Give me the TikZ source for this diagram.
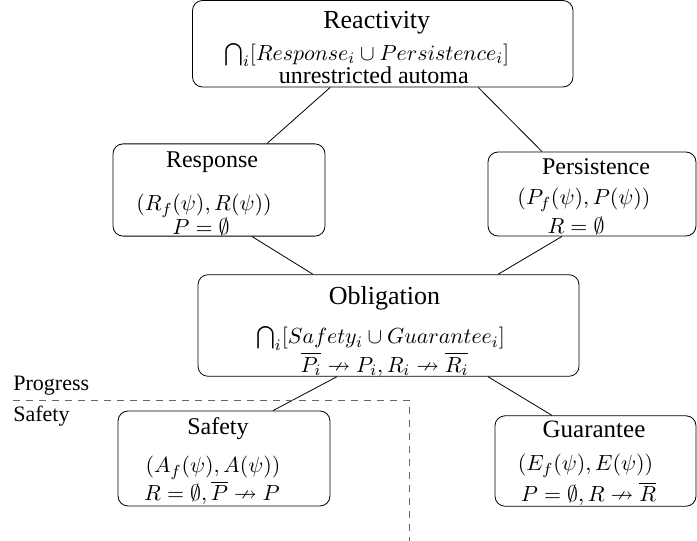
\documentclass[tikz,border=0pt]{standalone}
\usepackage[no-math]{fontspec}
\setmainfont{Liberation Serif}
\usepackage{amssymb}
\usetikzlibrary{calc}

% line of text set a little left of the box centre
\newcommand{\padl}[2]{\makebox[0pt]{\kern-#1\relax#2\kern#1\relax}}
\newcommand{\ttlfont}{\fontsize{12}{14}\selectfont}
\newcommand{\bigttlfont}{\fontsize{13}{15}\selectfont}

\begin{document}
\begin{tikzpicture}[x=0.5pt, y=-0.5pt,
	box/.style={draw, rounded corners=5pt, align=center, inner sep=0pt, font=\fontsize{11.3}{12}\selectfont},
	region/.style={dashed, dash pattern=on 3.5pt off 3pt, gray!80!black}]

\def\width{697}
\def\height{541}

\path [use as bounding box] (0,0) rectangle (\width,\height);

% BOXES
\node [box, minimum width=190.25pt, minimum height=43.25pt] (react) at (382.75,43.75)
	{\padl{3pt}{\bigttlfont\rule{0pt}{12pt}Reactivity}\\[4pt]
	 \padl{8pt}{$\bigcap_i[Response_i \cup Persistence_i]$}\\[-0.5pt]
	 \padl{4.5pt}{\fontsize{12}{12}\selectfont unrestricted automa}};
\node [box, minimum width=106pt, minimum height=45pt] (resp) at (219,190)
	{\padl{3.5pt}{\ttlfont\rule{0pt}{12pt}Response}\\[9.5pt]
	 \padl{7.5pt}{$(R_f(\psi), R(\psi))$}\\
	 \padl{9pt}{$P=\emptyset$}};
\node [box, minimum width=104pt, minimum height=42pt] (pers) at (592,194)
	{\padl{-2pt}{\ttlfont\rule{0pt}{11pt}Persistence}\\[3pt]
	 \padl{4pt}{$(P_f(\psi), P(\psi))$}\\[2.5pt]
	 \padl{8pt}{$R=\emptyset$}};
\node [box, minimum width=190.5pt, minimum height=47.5pt] (oblig) at (388.5,325.5)
	{\padl{2pt}{\bigttlfont\rule{0pt}{15pt}Obligation}\\[7.5pt]
	 \padl{4pt}{$\bigcap_i[Safety_i \cup Guarantee_i]$}\\
	 \padl{2pt}{$\overline{P_i} \nrightarrow P_i, R_i \nrightarrow \overline{R_i}$}};
\node [box, minimum width=106pt, minimum height=47.5pt] (safe) at (224,458.5)
	{\padl{3pt}{\ttlfont\rule{0pt}{11.5pt}Safety}\\[7pt]
	 \padl{5.5pt}{$(A_f(\psi), A(\psi))$}\\
	 \padl{6pt}{$R=\emptyset, \overline{P} \nrightarrow P$}};
\node [box, minimum width=100.5pt, minimum height=45pt] (guar) at (595.5,461)
	{\padl{0.75pt}{\fontsize{12.5}{14}\selectfont\rule{0pt}{11pt}Guarantee}\\[4.5pt]
	 \padl{5pt}{$(E_f(\psi), E(\psi))$}\\[1.5pt]
	 \padl{3.5pt}{$P=\emptyset, R \nrightarrow \overline{R}$}};

% LINKS
\draw ([xshift=-26.25pt]react.south) -- ([xshift=24pt]resp.north);
\draw ([xshift=47.75pt]react.south) -- ([xshift=-25pt]pers.north);
\draw ([xshift=16.5pt]resp.south) -- ([xshift=-37.75pt]oblig.north);
\draw ([xshift=-15pt]pers.south) -- ([xshift=54.75pt]oblig.north);
\draw ([xshift=-25.75pt]oblig.south) -- ([xshift=24.5pt]safe.north);
\draw ([xshift=49.75pt]oblig.south) -- ([xshift=-21.75pt]guar.north);

% REGIONS
\draw [region] (13,400) -- (409,400) -- (409,\height);
\node [anchor=base west, inner sep=0pt, font=\fontsize{11}{13}\selectfont] (progress) at (13,390) {Progress};
\node [anchor=base west, inner sep=0pt, font=\fontsize{11}{13}\selectfont] (safety) at (13,421) {Safety};

\end{tikzpicture}
\end{document}
